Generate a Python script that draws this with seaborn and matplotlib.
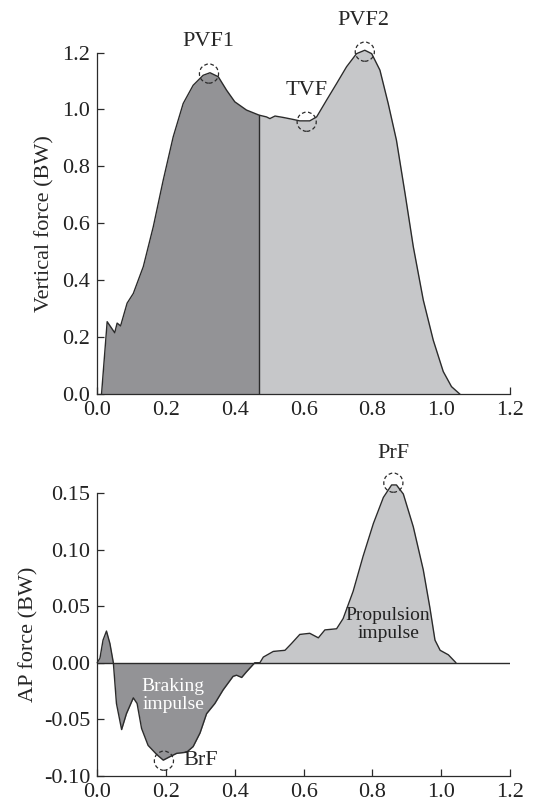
import matplotlib
matplotlib.use("Agg")
import matplotlib.pyplot as plt
import seaborn as sns
import numpy as np
import pandas as pd
from matplotlib import font_manager

# vertical ground reaction force (BW) vs time (s)
vt_time = [0.0126, 0.029, 0.051, 0.058, 0.068, 0.087, 0.105, 0.134, 0.163, 0.192, 0.221,
           0.25, 0.279, 0.308, 0.328, 0.352, 0.376, 0.40, 0.434, 0.471, 0.492, 0.502,
           0.517, 0.541, 0.57, 0.589, 0.618, 0.638, 0.667, 0.696, 0.725, 0.754, 0.778,
           0.798, 0.822, 0.846, 0.87, 0.895, 0.919, 0.948, 0.977, 1.006, 1.03, 1.055]
vt_force = [0.0, 0.255, 0.216, 0.25, 0.24, 0.32, 0.354, 0.448, 0.588, 0.752, 0.904,
            1.021, 1.085, 1.12, 1.129, 1.115, 1.068, 1.027, 0.998, 0.98, 0.974, 0.968,
            0.977, 0.972, 0.965, 0.96, 0.96, 0.974, 1.033, 1.091, 1.15, 1.196, 1.208,
            1.196, 1.138, 1.021, 0.892, 0.705, 0.518, 0.331, 0.19, 0.08, 0.027, 0.0]
vt_split = 0.471

# anterior-posterior force (BW) vs time (s)
ap_time = [0.0, 0.008, 0.017, 0.027, 0.037, 0.047, 0.056, 0.071, 0.085, 0.105, 0.116,
           0.129, 0.148, 0.173, 0.192, 0.211, 0.231, 0.26, 0.279, 0.299, 0.318, 0.342,
           0.366, 0.395, 0.405, 0.42, 0.434, 0.458, 0.473, 0.483, 0.512, 0.546, 0.565,
           0.589, 0.618, 0.643, 0.662, 0.696, 0.715, 0.744, 0.773, 0.803, 0.832, 0.856,
           0.87, 0.89, 0.919, 0.948, 0.967, 0.982, 0.997, 1.021, 1.043]
ap_force = [0.0, 0.004, 0.02, 0.028, 0.017, 0.0, -0.036, -0.059, -0.045, -0.031, -0.036,
            -0.058, -0.073, -0.081, -0.086, -0.083, -0.08, -0.079, -0.074, -0.062, -0.045,
            -0.036, -0.024, -0.012, -0.011, -0.013, -0.008, 0.0, 0.0, 0.005, 0.010, 0.011,
            0.017, 0.025, 0.026, 0.022, 0.029, 0.030, 0.039, 0.063, 0.094, 0.123, 0.146,
            0.157, 0.157, 0.149, 0.12, 0.082, 0.049, 0.02, 0.011, 0.007, 0.0]

vt_marks = {"PVF1": (0.325, 1.126), "TVF": (0.609, 0.957), "PVF2": (0.778, 1.203)}
vt_labels = {"PVF1": (0.323, 1.237), "TVF": (0.609, 1.068), "PVF2": (0.773, 1.311)}
ap_marks = {"PrF": (0.861, 0.159), "BrF": (0.194, -0.0865)}

dark = "#939396"
light = "#c6c7c9"
edge = "#2b2b2b"

sns.set_style("ticks")
names = {f.name for f in font_manager.fontManager.ttflist}
print("Liberation Serif" in names, sorted(n for n in names if "Serif" in n))
plt.rcParams["font.family"] = "serif"
plt.rcParams["font.serif"] = ["Liberation Serif", "DejaVu Serif"]
plt.rcParams["font.size"] = 16

fig = plt.figure(figsize=(5.46, 8.08), dpi=100)
ax1 = fig.add_axes([0.178, 0.512, 0.756, 0.423])
ax2 = fig.add_axes([0.178, 0.0396, 0.756, 0.3504])

# --- vertical force ---
vt = pd.DataFrame({"time": vt_time, "force": vt_force})
t = np.array(vt_time)
f = np.array(vt_force)
split_f = np.interp(vt_split, t, f)
left_t = np.append(t[t <= vt_split], vt_split)
left_f = np.append(f[t <= vt_split], split_f)
right_t = np.insert(t[t > vt_split], 0, vt_split)
right_f = np.insert(f[t > vt_split], 0, split_f)
ax1.fill_between(left_t, 0, left_f, color=dark, lw=0, clip_on=False)
ax1.fill_between(right_t, 0, right_f, color=light, lw=0, clip_on=False)
sns.lineplot(data=vt, x="time", y="force", ax=ax1, color=edge, lw=1.0, sort=False,
             clip_on=False)
ax1.plot([vt_split, vt_split], [0, split_f], color=edge, lw=1.0)

for name, (x, y) in vt_marks.items():
    ax1.scatter([x], [y], s=190, facecolors="none", edgecolors=edge, clip_on=False,
                linewidths=0.9, linestyle=(0, (3, 2)), zorder=5)
for name, (x, y) in vt_labels.items():
    ax1.text(x, y, name, ha="center", va="center", fontsize=16)

ax1.set_xlim(0, 1.2)
ax1.set_ylim(0, 1.2)
ax1.set_xticks(np.arange(0, 1.21, 0.2))
ax1.set_yticks(np.arange(0, 1.21, 0.2))
ax1.xaxis.set_major_formatter(matplotlib.ticker.FormatStrFormatter("%.1f"))
ax1.yaxis.set_major_formatter(matplotlib.ticker.FormatStrFormatter("%.1f"))
ax1.set_xlabel("")
ax1.set_ylabel("Vertical force (BW)", fontsize=16, labelpad=6)

# --- AP force ---
ap = pd.DataFrame({"time": ap_time, "force": ap_force})
at = np.array(ap_time)
af = np.array(ap_force)
ax2.fill_between(at, 0, af, where=at <= 0.46, color=dark, lw=0, interpolate=True,
                 clip_on=False)
ax2.fill_between(at, 0, af, where=at >= 0.46, color=light, lw=0, interpolate=True,
                 clip_on=False)
sns.lineplot(data=ap, x="time", y="force", ax=ax2, color=edge, lw=1.0, sort=False,
             clip_on=False)
ax2.axhline(0, color=edge, lw=1.0)

for name, (x, y) in ap_marks.items():
    ax2.scatter([x], [y], s=190, facecolors="none", edgecolors=edge, clip_on=False,
                linewidths=0.9, linestyle=(0, (3, 2)), zorder=5)
ax2.text(0.861, 0.185, "PrF", ha="center", va="center", fontsize=16)
ax2.text(0.25, -0.086, "BrF", ha="left", va="center", fontsize=16)
ax2.text(0.221, -0.029, "Braking\nimpulse", ha="center", va="center",
         fontsize=14, color="white", linespacing=1.05)
ax2.text(0.846, 0.034, "Propulsion\nimpulse", ha="center", va="center",
         fontsize=14, color="#222222", linespacing=1.05)

ax2.set_xlim(0, 1.2)
ax2.set_ylim(-0.10, 0.15)
ax2.set_xticks(np.arange(0, 1.21, 0.2))
ax2.set_yticks(np.arange(-0.10, 0.151, 0.05))
ax2.xaxis.set_major_formatter(matplotlib.ticker.FormatStrFormatter("%.1f"))
ax2.yaxis.set_major_formatter(matplotlib.ticker.FormatStrFormatter("%.2f"))
ax2.set_xlabel("")
ax2.set_ylabel("AP force (BW)", fontsize=16, labelpad=4)

for ax in (ax1, ax2):
    sns.despine(ax=ax)
    ax.tick_params(direction="in", length=5, width=0.9, colors=edge, labelcolor="#222222",
                   labelsize=16, pad=5)
    for s in ("left", "bottom"):
        ax.spines[s].set_color(edge)
        ax.spines[s].set_linewidth(0.9)

fig.savefig("out.png", dpi=100)
